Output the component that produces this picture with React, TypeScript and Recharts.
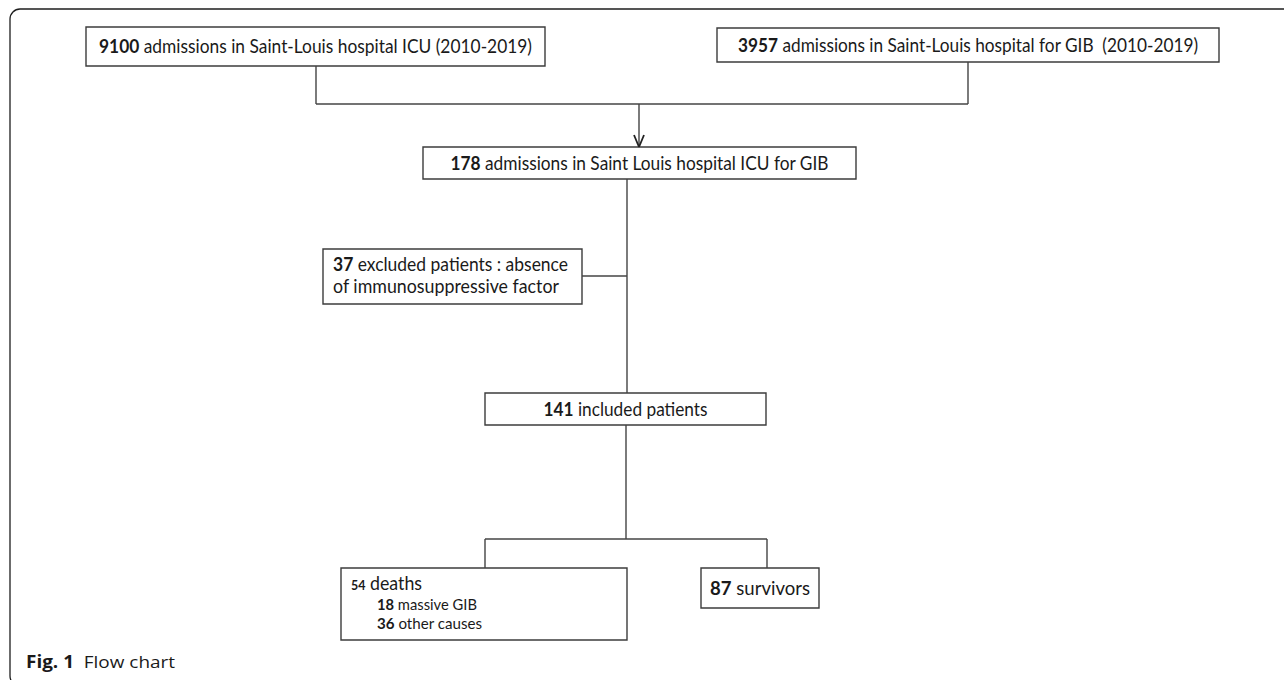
import React from 'react';
import { ComposedChart, XAxis, YAxis, ReferenceArea, ReferenceLine, Rectangle } from 'recharts';

const W = 1284;
const H = 680;

// ---- data ----
const boxCounts = ['9100', '3957', '178', '37', '141', '54', '87'];
const boxTexts = [
  ['admissions in Saint-Louis hospital ICU (2010-2019)'],
  ['admissions in Saint-Louis hospital for GIB  (2010-2019)'],
  ['admissions in Saint Louis hospital ICU for GIB'],
  ['excluded patients : absence', 'of immunosuppressive factor'],
  ['included patients'],
  ['deaths'],
  ['survivors'],
];
const causeCounts = ['18', '36'];
const causeLabels = ['massive GIB', 'other causes'];
const captionLabel = 'Fig. 1';
const captionText = 'Flow chart';

// ---- layout (positions in chart units = pixels) ----
type Box = { x1: number; x2: number; y1: number; y2: number; kind: string; font: number; widths: number[] };
const boxLayout: Box[] = [
  { x1: 86, x2: 545, y1: 27, y2: 66, kind: 'center', font: 19, widths: [433] },
  { x1: 717, x2: 1219, y1: 28, y2: 62, kind: 'center', font: 19, widths: [460] },
  { x1: 423, x2: 856, y1: 147, y2: 179, kind: 'center', font: 19, widths: [378] },
  { x1: 323, x2: 582, y1: 249, y2: 304, kind: 'left', font: 19, widths: [235, 226] },
  { x1: 485, x2: 766, y1: 393, y2: 425, kind: 'center', font: 19, widths: [164] },
  { x1: 341, x2: 627, y1: 568, y2: 640, kind: 'deaths', font: 19, widths: [71, 100, 105] },
  { x1: 701, x2: 819, y1: 568, y2: 608, kind: 'center', font: 19, widths: [100] },
];

const connectors: [number, number, number, number][] = [
  [316, 66, 316, 104],
  [968, 62, 968, 104],
  [316, 104, 968, 104],
  [639, 104, 639, 147],
  [634, 135, 639, 147],
  [644, 135, 639, 147],
  [627, 179, 627, 393],
  [582, 276, 627, 276],
  [626, 425, 626, 539],
  [485, 539, 767, 539],
  [485, 539, 485, 568],
  [767, 539, 767, 568],
];

const TEXT = '#1a1a1a';
const LINE = '#444444';
const FONT = 'Lato, "Open Sans", sans-serif';

const BoxLabel = (props: any) => {
  const { viewBox, idx } = props;
  if (!viewBox) return null;
  const { x, y, width, height } = viewBox;
  const L = boxLayout[idx];
  const count = boxCounts[idx];
  const lines = boxTexts[idx];
  if (L.kind === 'center') {
    return (
      <text
        x={x + width / 2}
        y={y + height / 2}
        dy="0.36em"
        textAnchor="middle"
        fontFamily={FONT}
        fontSize={L.font}
        fill={TEXT}
        textLength={L.widths[0]}
        lengthAdjust="spacingAndGlyphs"
        style={{ whiteSpace: 'pre' }}
      >
        <tspan fontWeight={700}>{count}</tspan>
        <tspan>{' ' + lines[0]}</tspan>
      </text>
    );
  }
  if (L.kind === 'left') {
    return (
      <g>
        {lines.map((ln, i) => (
          <text
            key={i}
            x={x + 10}
            y={y + 22 + i * 22}
            fontFamily={FONT}
            fontSize={L.font}
            fill={TEXT}
            textLength={L.widths[i]}
            lengthAdjust="spacingAndGlyphs"
          >
            {i === 0 ? <tspan fontWeight={700}>{count}</tspan> : null}
            <tspan>{i === 0 ? ' ' + ln : ln}</tspan>
          </text>
        ))}
      </g>
    );
  }
  // deaths box
  return (
    <g>
      <text x={x + 10} y={y + 22} fontFamily={FONT} fill={TEXT} textLength={L.widths[0]} lengthAdjust="spacingAndGlyphs">
        <tspan fontWeight={700} fontSize={14}>{count}</tspan>
        <tspan fontSize={20}>{' ' + lines[0]}</tspan>
      </text>
      {causeCounts.map((c, i) => (
        <text
          key={i}
          x={x + 36}
          y={y + 42 + i * 19}
          fontFamily={FONT}
          fontSize={16}
          fill={TEXT}
          textLength={L.widths[i + 1]}
          lengthAdjust="spacingAndGlyphs"
        >
          <tspan fontWeight={700}>{c}</tspan>
          <tspan>{' ' + causeLabels[i]}</tspan>
        </text>
      ))}
    </g>
  );
};

const CaptionLabel = (props: any) => {
  const { viewBox } = props;
  if (!viewBox) return null;
  return (
    <text
      x={viewBox.x}
      y={viewBox.y}
      fontFamily='"Open Sans", sans-serif'
      fontSize={17}
      fill={TEXT}
      textLength={149}
      lengthAdjust="spacingAndGlyphs"
      style={{ whiteSpace: 'pre' }}
    >
      <tspan fontWeight={700}>{captionLabel}</tspan>
      <tspan>{'  ' + captionText}</tspan>
    </text>
  );
};

export default function App() {
  return (
    <div style={{ position: 'absolute', left: 0, top: 0, width: W, height: H, overflow: 'hidden', background: '#fff' }}>
      <ComposedChart width={W} height={H} margin={{ top: 0, right: 0, bottom: 0, left: 0 }}>
        <XAxis type="number" dataKey="x" domain={[0, W]} hide allowDataOverflow />
        <YAxis type="number" dataKey="y" domain={[0, H]} reversed hide allowDataOverflow />
        {/* figure frame */}
        <ReferenceArea
          x1={10}
          x2={W + 40}
          y1={9}
          y2={H + 6}
          ifOverflow="visible"
          shape={(p: any) => <Rectangle {...p} fill="none" stroke="#1e1e1e" strokeWidth={1.3} radius={10} />}
        />
        {connectors.map((c, i) => (
          <ReferenceLine
            key={'c' + i}
            segment={[{ x: c[0], y: c[1] }, { x: c[2], y: c[3] }]}
            stroke={i === 4 || i === 5 ? '#222222' : LINE}
            strokeWidth={i === 4 || i === 5 ? 1.8 : 1.4}
            ifOverflow="visible"
          />
        ))}
        {boxLayout.map((b, i) => (
          <ReferenceArea
            key={'b' + i}
            x1={b.x1}
            x2={b.x2}
            y1={b.y1}
            y2={b.y2}
            ifOverflow="visible"
            fill="#ffffff"
            fillOpacity={1}
            stroke="#3c3c3c"
            strokeWidth={1.4}
            label={<BoxLabel idx={i} />}
          />
        ))}
        <ReferenceArea
          x1={26}
          x2={200}
          y1={668}
          y2={668}
          ifOverflow="visible"
          fill="none"
          stroke="none"
          label={<CaptionLabel />}
        />
      </ComposedChart>
    </div>
  );
}
